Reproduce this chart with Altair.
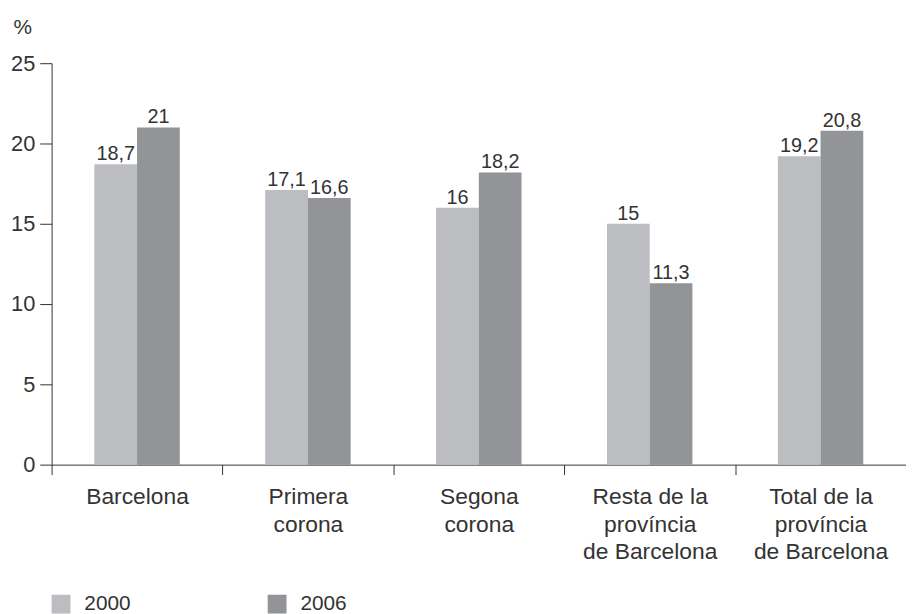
import altair as alt
import pandas as pd

categories = ["Barcelona", "Primera|corona", "Segona|corona",
              "Resta de la|província|de Barcelona", "Total de la|província|de Barcelona"]
years = ["2000", "2006"]
v2000 = [18.7, 17.1, 16, 15, 19.2]
v2006 = [21, 16.6, 18.2, 11.3, 20.8]
y_ticks = [0, 5, 10, 15, 20, 25]

rows = []
for c, a, b in zip(categories, v2000, v2006):
    for yr, v in (("2000", a), ("2006", b)):
        rows.append({"cat": c, "year": yr, "value": v,
                     "label": (f"{v:g}").replace(".", ",")})
df = pd.DataFrame(rows)

FONT = "Liberation Sans"
TXT = "#333333"

x_enc = alt.X("cat:N", sort=categories,
              scale=alt.Scale(paddingInner=0, paddingOuter=0),
              axis=alt.Axis(title=None, labelAngle=0,
                            labelExpr="split(datum.label, '|')",
                            tickBand="extent", tickSize=10, labelPadding=11,
                            labelFontSize=23, labelLineHeight=28,
                            labelColor=TXT, domainColor=TXT, tickColor=TXT,
                            labelFont=FONT, labelOverlap=False, labelLimit=300,
                            labelBaseline="top", grid=False))
xo_enc = alt.XOffset("year:N", sort=years,
                     scale=alt.Scale(paddingOuter=1, paddingInner=0))
y_enc = alt.Y("value:Q", scale=alt.Scale(domain=[0, 25], nice=False),
              axis=alt.Axis(values=y_ticks, title="%", titleAngle=0,
                            titleX=-39, titleY=-47, titleAlign="left",
                            titleBaseline="top", titleFontSize=21,
                            titleFontWeight="normal", titleColor=TXT, titleFont=FONT,
                            grid=False, tickSize=12, labelPadding=5,
                            labelFontSize=22, labelColor=TXT, labelFont=FONT,
                            domainColor=TXT, tickColor=TXT))

bars = alt.Chart(df).mark_bar().encode(
    x=x_enc, xOffset=xo_enc, y=y_enc,
    color=alt.Color("year:N", sort=years,
                    scale=alt.Scale(domain=years, range=["#bcbdc1", "#939497"]),
                    legend=alt.Legend(title=None, orient="none", legendX=-1, legendY=535,
                                      direction="horizontal", symbolType="square",
                                      symbolSize=361, symbolStrokeWidth=0,
                                      symbolOpacity=1, labelFontSize=21,
                                      labelColor=TXT, labelFont=FONT,
                                      labelOffset=13, columnPadding=137))
)

texts = alt.Chart(df).mark_text(baseline="alphabetic", dy=-4, fontSize=20,
                                color=TXT, font=FONT).encode(
    x=alt.X("cat:N", sort=categories),
    xOffset=alt.XOffset("year:N", sort=years),
    y=alt.Y("value:Q"), text="label:N")

chart = (bars + texts).properties(
    width=862, height=405,
    autosize=alt.AutoSizeParams(type="none"),
    padding={"left": 44, "top": 53, "right": 0, "bottom": 148},
).configure(font=FONT).configure_view(strokeWidth=0, stroke="transparent").configure_axis(grid=False)

chart.save("out.html", embed_options={"renderer": "svg", "actions": False})
